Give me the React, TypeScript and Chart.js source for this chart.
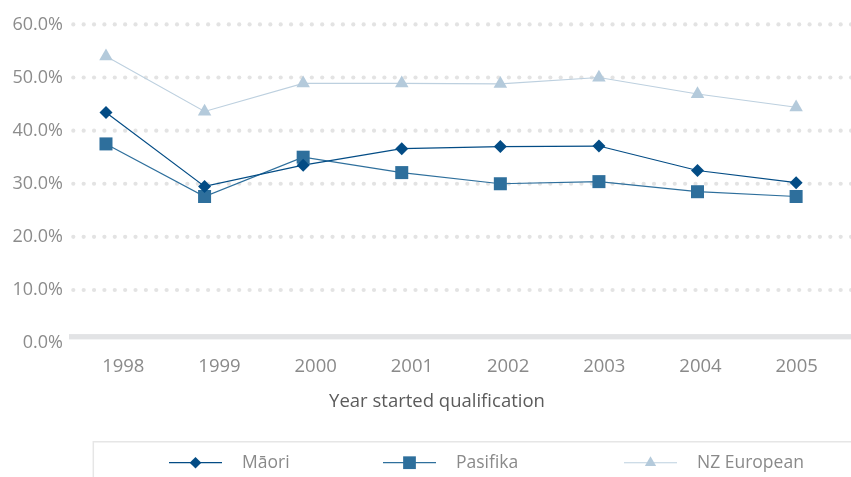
import React, { useEffect, useRef } from 'react';
import { Chart, registerables } from 'chart.js';

Chart.register(...registerables);

// ---- data ----
const years = [1998, 1999, 2000, 2001, 2002, 2003, 2004, 2005];
const maori = [43.4, 29.5, 33.5, 36.6, 37.0, 37.1, 32.5, 30.2];
const pasifika = [37.5, 27.6, 35.0, 32.1, 30.0, 30.4, 28.5, 27.6];
const nzEuropean = [54.0, 43.6, 48.9, 48.9, 48.8, 50.0, 46.9, 44.4];
const seriesNames = ['Māori', 'Pasifika', 'NZ European'];
const yTickValues = [0, 10, 20, 30, 40, 50, 60];
const xTitle = 'Year started qualification';

const FONT = "'Open Sans', 'DejaVu Sans', sans-serif";

const dotGrid = {
  id: 'dotGrid',
  beforeDatasetsDraw(chart: any) {
    const { ctx, chartArea, scales } = chart;
    const ys = scales.y;
    ctx.save();
    ys.ticks.forEach((t: any) => {
      const py = ys.getPixelForValue(t.value);
      if (t.value === 0) {
        ctx.fillStyle = '#e2e3e5';
        ctx.fillRect(chartArea.left - 1, py - 9, chart.width - chartArea.left + 1, 5.3);
      } else {
        ctx.fillStyle = '#e3e3e3';
        for (let x = chartArea.left + 3.3; x < chart.width + 2; x += 10.37) {
          ctx.beginPath();
          ctx.arc(x, py, 2.1, 0, Math.PI * 2);
          ctx.fill();
        }
      }
    });
    ctx.restore();
  },
};

function drawMarker(ctx: CanvasRenderingContext2D, style: string, x: number, y: number, r: number) {
  ctx.beginPath();
  if (style === 'rectRot') {
    ctx.moveTo(x, y - r);
    ctx.lineTo(x + r, y);
    ctx.lineTo(x, y + r);
    ctx.lineTo(x - r, y);
  } else if (style === 'rect') {
    const s = r * Math.SQRT1_2;
    ctx.rect(x - s, y - s, 2 * s, 2 * s);
  } else {
    ctx.moveTo(x, y - r);
    ctx.lineTo(x + r * Math.sin(Math.PI / 3), y + r / 2);
    ctx.lineTo(x - r * Math.sin(Math.PI / 3), y + r / 2);
  }
  ctx.closePath();
  ctx.fill();
}

const boxLegend = {
  id: 'boxLegend',
  afterDraw(chart: any, _args: any, opts: any) {
    const { ctx } = chart;
    ctx.save();
    ctx.strokeStyle = '#e6e6e6';
    ctx.lineWidth = 1.5;
    ctx.beginPath();
    ctx.moveTo(opts.boxLeft, chart.height);
    ctx.lineTo(opts.boxLeft, opts.boxTop);
    ctx.lineTo(chart.width, opts.boxTop);
    ctx.stroke();
    chart.data.datasets.forEach((ds: any, i: number) => {
      const x0 = opts.itemX[i];
      const yc = opts.y;
      ctx.strokeStyle = ds.borderColor;
      ctx.lineWidth = ds.borderWidth;
      ctx.beginPath();
      ctx.moveTo(x0, yc);
      ctx.lineTo(x0 + opts.lineLen, yc);
      ctx.stroke();
      ctx.fillStyle = ds.pointBackgroundColor;
      drawMarker(ctx, ds.pointStyle, x0 + opts.lineLen / 2, yc, opts.markerR[i]);
      ctx.fillStyle = '#8a8a8a';
      ctx.font = `17.5px ${FONT}`;
      ctx.textBaseline = 'middle';
      ctx.textAlign = 'left';
      ctx.fillText(ds.label, x0 + opts.lineLen + 20, yc);
    });
    ctx.restore();
  },
};

export default function App() {
  const ref = useRef<HTMLCanvasElement | null>(null);

  useEffect(() => {
    if (!ref.current) return;
    const toXY = (arr: number[]) => years.map((x, i) => ({ x, y: arr[i] }));
    const chart = new Chart(ref.current, {
      type: 'line',
      data: {
        datasets: [
          {
            label: seriesNames[0],
            data: toXY(maori),
            borderColor: '#034c85',
            backgroundColor: '#034c85',
            pointBackgroundColor: '#034c85',
            borderWidth: 1.2,
            pointStyle: 'rectRot',
            pointRadius: 6.5,
            pointBorderWidth: 0,
            tension: 0,
            clip: false,
            xAxisID: 'x',
          },
          {
            label: seriesNames[1],
            data: toXY(pasifika),
            borderColor: '#2e6f9c',
            backgroundColor: '#2e6f9c',
            pointBackgroundColor: '#2e6f9c',
            borderWidth: 1.2,
            pointStyle: 'rect',
            pointRadius: 9.2,
            pointBorderWidth: 0,
            tension: 0,
            clip: false,
            xAxisID: 'x',
          },
          {
            label: seriesNames[2],
            data: toXY(nzEuropean),
            borderColor: '#bdd0df',
            backgroundColor: '#b4cadb',
            pointBackgroundColor: '#b4cadb',
            borderWidth: 1.1,
            pointStyle: 'triangle',
            pointRadius: 7.8,
            pointBorderWidth: 0,
            tension: 0,
            clip: false,
            xAxisID: 'x',
          },
        ] as any,
      },
      options: {
        animation: false,
        responsive: false,
        maintainAspectRatio: false,
        layout: { padding: { top: 24.4, right: 47, bottom: 63.9, left: 0 } },
        plugins: {
          legend: { display: false },
          tooltip: { enabled: false },
          boxLegend: {
            boxLeft: 93.3,
            boxTop: 441.7,
            y: 462.7,
            itemX: [169, 383, 624],
            lineLen: 53,
            markerR: [5.8, 9, 6.5],
          },
        } as any,
        scales: {
          x: {
            type: 'linear',
            display: false,
            min: 1997.635,
            max: 2005.08,
          },
          xLabels: {
            type: 'linear',
            position: 'bottom',
            min: 1997.446,
            max: 2005.076,
            afterBuildTicks: (axis: any) => {
              axis.ticks = years.map((v) => ({ value: v }));
            },
            afterFit: (axis: any) => {
              axis.height = 70;
            },
            grid: { display: false, drawTicks: false },
            border: { display: false },
            ticks: {
              autoSkip: false,
              maxRotation: 0,
              padding: 13,
              color: '#8a8a8a',
              font: { family: FONT, size: 18.5 },
              callback: (v: any) => String(v),
            },
            title: {
              display: true,
              text: xTitle,
              color: '#5b5b5b',
              font: { family: FONT, size: 18.5 },
              padding: { top: 0, bottom: 0 },
            },
          },
          y: {
            type: 'linear',
            min: 0,
            max: 60,
            afterBuildTicks: (axis: any) => {
              axis.ticks = yTickValues.map((v) => ({ value: v }));
            },
            afterFit: (axis: any) => {
              axis.width = 70;
            },
            grid: { display: false, drawTicks: false },
            border: { display: false },
            ticks: {
              padding: 7,
              color: '#8c8c8c',
              font: { family: FONT, size: 18 },
              callback: (v: any) => Number(v).toFixed(1) + '%',
            },
          },
        } as any,
      },
      plugins: [dotGrid, boxLegend],
    });
    return () => chart.destroy();
  }, []);

  return (
    <div style={{ position: 'absolute', left: 0, top: 0, width: 851, height: 477, background: '#fff' }}>
      <canvas ref={ref} width={851} height={477} style={{ display: 'block' }} />
    </div>
  );
}
